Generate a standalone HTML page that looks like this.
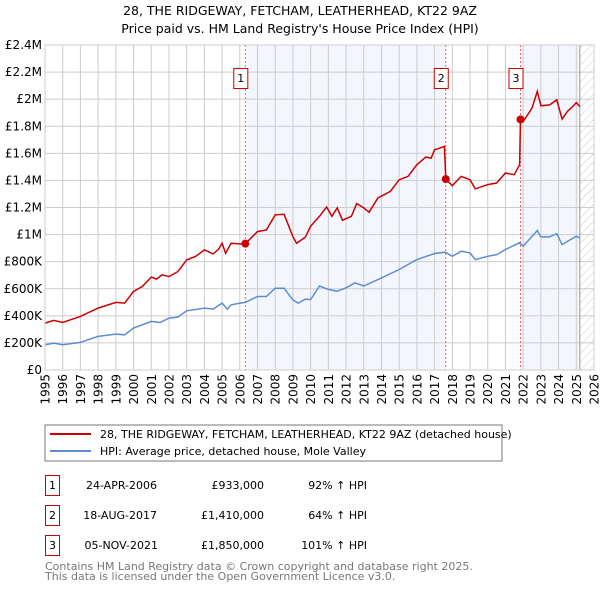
<!DOCTYPE html>
<html><head><meta charset="utf-8"><style>
body{margin:0;background:#fff;font-family:"DejaVu Sans","Liberation Sans",sans-serif;}
#c{position:relative;width:600px;height:590px;overflow:hidden}
svg{position:absolute;left:0;top:0}
</style></head><body>
<div id="c">
<svg id="s" width="600" height="590" font-family="DejaVu Sans, Liberation Sans, sans-serif">
<text x="300" y="15" text-anchor="middle" font-size="12.5">28, THE RIDGEWAY, FETCHAM, LEATHERHEAD, KT22 9AZ</text>
<text x="300" y="33" text-anchor="middle" font-size="12.5">Price paid vs. HM Land Registry's House Price Index (HPI)</text>
<defs><pattern id="h" width="6" height="6" patternUnits="userSpaceOnUse" patternTransform="rotate(45)"><line x1="0" y1="0" x2="0" y2="6" stroke="#ccc" stroke-width="1"/></pattern></defs>
<g id="plot"></g>
<rect x="45" y="425" width="457" height="36" fill="none" stroke="#777"/>
<line x1="50" y1="434" x2="91" y2="434" stroke="#cc0000" stroke-width="2"/>
<text x="100" y="438" font-size="11">28, THE RIDGEWAY, FETCHAM, LEATHERHEAD, KT22 9AZ (detached house)</text>
<line x1="50" y1="451" x2="91" y2="451" stroke="#5b8dd0" stroke-width="2"/>
<text x="100" y="455" font-size="11">HPI: Average price, detached house, Mole Valley</text>
<g font-size="11">
<rect x="45.5" y="475.5" width="14" height="20" fill="none" stroke="#cc0000"/><text x="52.5" y="489" text-anchor="middle">1</text>
<text x="157" y="489" text-anchor="end">24-APR-2006</text><text x="264" y="489" text-anchor="end">£933,000</text><text x="367" y="489" text-anchor="end">92% ↑ HPI</text>
<rect x="45.5" y="505.5" width="14" height="20" fill="none" stroke="#cc0000"/><text x="52.5" y="519" text-anchor="middle">2</text>
<text x="157" y="519" text-anchor="end">18-AUG-2017</text><text x="264" y="519" text-anchor="end">£1,410,000</text><text x="367" y="519" text-anchor="end">64% ↑ HPI</text>
<rect x="45.5" y="535.5" width="14" height="20" fill="none" stroke="#cc0000"/><text x="52.5" y="549" text-anchor="middle">3</text>
<text x="158" y="549" text-anchor="end">05-NOV-2021</text><text x="264" y="549" text-anchor="end">£1,850,000</text><text x="367" y="549" text-anchor="end">101% ↑ HPI</text>
</g>
<text x="45" y="570" font-size="11" fill="#777">Contains HM Land Registry data © Crown copyright and database right 2025.</text>
<text x="45" y="580" font-size="11" fill="#777">This data is licensed under the Open Government Licence v3.0.</text>
</svg></div>
<script>
const yTicks=[0,200000,400000,600000,800000,1000000,1200000,1400000,1600000,1800000,2000000,2200000,2400000];
const yTickLabels=["£0","£200K","£400K","£600K","£800K","£1M","£1.2M","£1.4M","£1.6M","£1.8M","£2M","£2.2M","£2.4M"];
const years=[1995,1996,1997,1998,1999,2000,2001,2002,2003,2004,2005,2006,2007,2008,2009,2010,2011,2012,2013,2014,2015,2016,2017,2018,2019,2020,2021,2022,2023,2024,2025,2026];
const hpiDates=[1995,1995.5,1996,1997,1998,1999,1999.5,2000,2001,2001.5,2002,2002.5,2003,2004,2004.5,2005,2005.3,2005.5,2006,2006.3,2007,2007.5,2008,2008.5,2009,2009.3,2009.7,2010,2010.5,2011,2011.5,2012,2012.5,2013,2014,2015,2016,2017,2017.6,2018,2018.5,2019,2019.3,2020,2020.5,2021,2021.8,2022,2022.8,2023,2023.5,2023.9,2024.2,2024.5,2025,2025.2];
const hpiValues=[187000,199000,187000,204000,248000,265000,260000,310000,359000,351000,383000,391000,437000,457000,450000,494000,450000,481000,494000,499000,543000,543000,604000,604000,518000,494000,523000,520000,620000,595000,582000,607000,644000,620000,680000,742000,815000,860000,870000,840000,877000,865000,815000,840000,852000,890000,940000,914000,1030000,983000,983000,1007000,926000,950000,988000,975000];
const priceDates=[1995,1995.5,1996,1997,1998,1999,1999.5,2000,2000.5,2001,2001.3,2001.6,2002,2002.5,2003,2003.5,2004,2004.5,2004.8,2005,2005.2,2005.5,2006,2006.31,2007,2007.5,2008,2008.5,2009,2009.2,2009.7,2010,2010.5,2010.9,2011.2,2011.5,2011.8,2012.3,2012.6,2013,2013.3,2013.8,2014.5,2015,2015.5,2016,2016.5,2016.8,2017,2017.3,2017.55,2017.63,2018,2018.5,2019,2019.3,2020,2020.5,2021,2021.5,2021.8,2021.85,2022,2022.5,2022.8,2023,2023.5,2023.9,2024.2,2024.5,2024.8,2025,2025.2];
const priceValues=[346000,366000,351000,396000,457000,499000,494000,580000,617000,686000,671000,703000,690000,727000,813000,838000,887000,857000,892000,936000,862000,936000,931000,933000,1022000,1034000,1145000,1150000,985000,936000,980000,1061000,1135000,1204000,1135000,1197000,1106000,1135000,1229000,1197000,1165000,1270000,1319000,1405000,1430000,1516000,1572000,1565000,1627000,1639000,1651000,1410000,1361000,1430000,1405000,1337000,1369000,1381000,1455000,1442000,1516000,1850000,1835000,1934000,2057000,1951000,1958000,1995000,1853000,1909000,1946000,1975000,1946000];
const saleDates=[2006.31,2017.63,2021.85];
const saleValues=[933000,1410000,1850000];
const saleLabels=["1","2","3"];
const dataEnd=2025.2;
const L=45,R=594,T=45,B=370,X0=1995,X1=2026,YM=2400000;
const X=v=>L+(v-X0)/(X1-X0)*(R-L), Y=v=>B-v/YM*(B-T);
const NS="http://www.w3.org/2000/svg", g=document.getElementById('plot');
function mk(t,a){const e=document.createElementNS(NS,t);for(const k in a)e.setAttribute(k,a[k]);g.appendChild(e);return e;}
let e;
e=mk('rect',{x:X(saleDates[0]),y:T,width:X(saleDates[1])-X(saleDates[0]),height:B-T,fill:'#eef3fc',opacity:0.7});


e=mk('rect',{x:X(saleDates[2]),y:T,width:X(dataEnd)-X(saleDates[2]),height:B-T,fill:'#eef3fc',opacity:0.7});


e=mk('rect',{x:X(dataEnd),y:T,width:R-X(dataEnd),height:B-T,fill:'url(#h)'});


yTicks.forEach((v,i)=>{
 e=mk('line',{x1:L,x2:R,y1:Y(v),y2:Y(v),stroke:'#ccc'});
 
 
 e=mk('text',{x:L-3,y:Y(v)+4,'text-anchor':'end','font-size':12});e.textContent=yTickLabels[i];
 
 
});
years.forEach(y=>{
 e=mk('line',{x1:X(y),x2:X(y),y1:T,y2:B,stroke:'#ccc'});
 
 
 const tx=X(y)+4.5, ty=B+4;
 e=mk('text',{x:tx,y:ty,'text-anchor':'end','font-size':12,transform:'rotate(-90 '+tx+' '+ty+')'});e.textContent=y;
 
 
});
e=mk('line',{x1:X(dataEnd),x2:X(dataEnd),y1:T,y2:B,stroke:'#999'});


saleDates.forEach((d,i)=>{
 e=mk('line',{x1:X(d),x2:X(d),y1:T,y2:B,stroke:'#f06060','stroke-dasharray':'2,2'});
 
 
});
const pts=(ds,vs)=>ds.map((d,i)=>X(d).toFixed(1)+','+Y(vs[i]).toFixed(1)).join(' ');
e=mk('polyline',{points:pts(hpiDates,hpiValues),fill:'none',stroke:'#5b8dd0','stroke-width':1.5});


e=mk('polyline',{points:pts(priceDates,priceValues),fill:'none',stroke:'#cc0000','stroke-width':1.5});


saleDates.forEach((d,i)=>{
 e=mk('circle',{cx:X(d),cy:Y(saleValues[i]),r:4,fill:'#cc0000'});
 
 
 e=mk('rect',{x:X(d)-11.5,y:68.5,width:14,height:20,fill:'#fff',stroke:'#cc0000'});
 
 
 e=mk('text',{x:X(d)-4.5,y:82,'text-anchor':'middle','font-size':11});e.textContent=saleLabels[i];
 
 
});
e=mk('rect',{x:L,y:T,width:R-L,height:B-T,fill:'none',stroke:'#ccc'});


</script></body></html>
